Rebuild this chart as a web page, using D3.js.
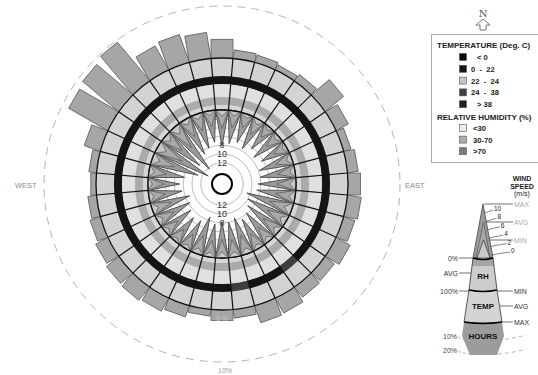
<!DOCTYPE html>
<html>
<head>
<meta charset="utf-8">
<script src="https://cdn.jsdelivr.net/npm/d3@7"></script>
<style>
body { margin: 0; background: #fff; }
svg { font-family: Arial, "Liberation Sans", sans-serif; }
</style>
</head>
<body>
<svg id="chart" width="538" height="375"></svg>
<script>
// directions in degrees, clockwise from north
var directions = d3.range(0, 360, 10);
// wind speed (m/s) per direction
var windMax = [8.2, 7.5, 6.8, 7.6, 6.4, 7.4, 6.5, 7.8, 8.0, 8.6, 8.8, 10.8, 10.0, 9.2, 8.2, 7.6, 8.6, 8.0,
               8.2, 7.6, 8.8, 7.2, 6.8, 7.6, 8.4, 9.0, 7.6, 7.2, 8.2, 11.0, 13.2, 10.2, 12.4, 9.0, 8.2, 7.2];
var windAvg = [4.2, 3.8, 3.2, 3.8, 3.0, 3.6, 3.2, 3.8, 4.0, 4.4, 4.4, 5.4, 5.0, 4.6, 4.0, 3.8, 4.4, 4.0,
               4.2, 3.8, 4.4, 3.6, 3.4, 3.8, 4.2, 4.6, 3.8, 3.6, 4.0, 5.4, 6.4, 5.0, 6.0, 4.4, 4.0, 3.6];
var windMin = [1.4, 1.1, 0.9, 1.2, 0.8, 1.1, 0.9, 1.2, 1.2, 1.5, 1.4, 1.8, 1.6, 1.5, 1.2, 1.1, 1.4, 1.2,
               1.4, 1.1, 1.4, 1.0, 0.9, 1.1, 1.3, 1.5, 1.1, 1.0, 1.2, 1.8, 2.2, 1.6, 2.0, 1.3, 1.2, 1.0];
// percent of hours per direction
var hours = [3.6, 1.6, 1.4, 1.0, 1.5, 4.5, 2.6, 1.4, 2.0, 2.4, 2.6, 2.2, 3.0, 2.2, 2.4, 3.2, 3.4, 1.6,
             2.0, 1.2, 2.2, 2.8, 3.2, 3.0, 2.6, 2.0, 1.6, 1.0, 1.4, 3.2, 8.6, 9.0, 9.6, 5.2, 5.6, 5.0];
// temperature / humidity class per direction
var tempClass = ["0-22","0-22","0-22","0-22","0-22","0-22","0-22","0-22","0-22","0-22","0-22","0-22",
                 "0-22","0-22","24-38","0-22","0-22","24-38","0-22","0-22","0-22","0-22","0-22","0-22",
                 "0-22","0-22","0-22","0-22","0-22","0-22","0-22","0-22","0-22","0-22","0-22","0-22"];
var rhClass = directions.map(function() { return "30-70"; });

var windTicks = [12, 10, 8, 6, 4, 2];
var windLabels = [12, 10, 8];
var tempLegend = ["< 0", "0  -  22", "22  -  24", "24  -  38", "> 38"];
var tempKeys = ["<0", "0-22", "22-24", "24-38", ">38"];
var rhLegend = ["<30", "30-70", ">70"];
var legendWindTicks = [10, 8, 6, 4, 2, 0];

var tempColor = d3.scaleOrdinal().domain(tempKeys).range(["#080808", "#141414", "#c4c4c4", "#3e3e3e", "#222"]);
var rhColor = d3.scaleOrdinal().domain(rhLegend).range(["#ececec", "#ababab", "#7a7a7a"]);

var svg = d3.select("#chart");
var cx = 222, cy = 184;
var rBase = 74, rRhBand0 = 79, rRhBand1 = 87, rRh = 100, rTempBand = 108, rOut = 126;

var rad = Math.PI / 180;
var wind = d3.scaleLinear().domain([0, 12]).range([rBase, 21.2]);
var hoursR = d3.scaleLinear().domain([0, 10]).range([rOut, 178]);

var g = svg.append("g").attr("transform", "translate(" + cx + "," + cy + ")");

// outer dashed circle (10% hours)
g.append("circle").attr("r", hoursR(10))
    .attr("fill", "none").attr("stroke", "#b4b4b4").attr("stroke-width", 1)
    .attr("stroke-dasharray", "8,6");

// hours bars
g.selectAll(".bar")
    .data(directions)
    .enter().append("rect")
    .attr("class", "bar")
    .attr("transform", function(d) { return "rotate(" + d + ")"; })
    .attr("x", -11)
    .attr("width", 22)
    .attr("y", function(d, i) { return -hoursR(hours[i]); })
    .attr("height", function(d, i) { return hoursR(hours[i]) - rRh; })
    .attr("fill", "#a6a6a6")
    .attr("stroke", "#5e5e5e")
    .attr("stroke-width", 0.8);

g.append("text").attr("x", 0).attr("y", rOut + 11).attr("text-anchor", "middle")
    .attr("font-size", 7).attr("fill", "#c8c8c8").text("0 %");

var arc = d3.arc();
function cell(d, r0, r1) {
    return arc({innerRadius: r0, outerRadius: r1, startAngle: (d - 5) * rad, endAngle: (d + 5) * rad});
}

// ring cells
g.selectAll(".tcell").data(directions).enter().append("path")
    .attr("d", function(d) { return cell(d, rTempBand, rOut); })
    .attr("fill", "#d3d3d3");
g.selectAll(".tband").data(directions).enter().append("path")
    .attr("d", function(d) { return cell(d, rRh, rTempBand); })
    .attr("fill", function(d, i) { return tempColor(tempClass[i]); });
g.selectAll(".rcell").data(directions).enter().append("path")
    .attr("d", function(d) { return cell(d, rBase, rRh); })
    .attr("fill", "#e0e0e0");
g.selectAll(".rband").data(directions).enter().append("path")
    .attr("d", function(d) { return cell(d, rRhBand0, rRhBand1); })
    .attr("fill", function(d, i) { return rhColor(rhClass[i]); });
g.selectAll(".rinner").data(directions).enter().append("path")
    .attr("d", function(d) { return cell(d, rBase, rRhBand0); })
    .attr("fill", "#d6d6d6");

// cell dividers
g.selectAll(".div").data(directions).enter().append("line")
    .attr("transform", function(d) { return "rotate(" + (d + 5) + ")"; })
    .attr("y1", -rBase).attr("y2", -rOut)
    .attr("stroke", "#111").attr("stroke-width", 1.2);
[rOut, rBase].forEach(function(r) {
    g.append("circle").attr("r", r).attr("fill", "none").attr("stroke", "#111").attr("stroke-width", 1.3);
});

// inner disc + wind grid
g.append("circle").attr("r", rBase - 0.7).attr("fill", "#fff");
g.selectAll(".wgrid").data(windTicks).enter().append("circle")
    .attr("r", function(d) { return wind(d); })
    .attr("fill", "none").attr("stroke", "#aaa").attr("stroke-width", 0.8);

// wind spikes: region between base circle and the star outline
var circlePath = "M" + rBase + ",0A" + rBase + "," + rBase + " 0 1,1 " + (-rBase) + ",0A" + rBase + "," + rBase + " 0 1,1 " + rBase + ",0Z";
function star(vals) {
    var pts = [];
    directions.forEach(function(d, i) {
        pts.push([d * rad, wind(vals[i])]);
        pts.push([(d + 5) * rad, rBase]);
    });
    return d3.lineRadial().angle(function(p) { return p[0]; }).radius(function(p) { return p[1]; })
        .curve(d3.curveLinearClosed)(pts);
}
function spikes(vals, fill, stroke, sw) {
    g.append("path").attr("d", circlePath + star(vals)).attr("fill-rule", "evenodd")
        .attr("fill", fill).attr("stroke", "none");
    g.append("path").attr("d", star(vals)).attr("fill", "none").attr("stroke", stroke).attr("stroke-width", sw);
}
spikes(windMax, "#9b9b9b", "#444", 0.9);
spikes(windAvg, "#a9a9a9", "#555", 0.7);
spikes(windMin, "#c6c6c6", "#555", 0.7);
g.append("circle").attr("r", rBase).attr("fill", "none").attr("stroke", "#111").attr("stroke-width", 1.3);

// wind labels above and below centre
windLabels.forEach(function(w) {
    [-1, 1].forEach(function(s) {
        g.append("text").attr("x", 0).attr("y", s * wind(w) + 3)
            .attr("text-anchor", "middle").attr("font-size", 9).attr("fill", "#333").text(w);
    });
});

g.append("circle").attr("r", 10).attr("fill", "#fff").attr("stroke", "#000").attr("stroke-width", 2);

// compass labels
svg.append("text").attr("x", 15).attr("y", 188).attr("font-size", 7.5).attr("fill", "#8a8a8a").text("WEST");
svg.append("text").attr("x", 405).attr("y", 188).attr("font-size", 7.5).attr("fill", "#8a8a8a").text("EAST");
svg.append("text").attr("x", 225).attr("y", 373).attr("text-anchor", "middle").attr("font-size", 7).attr("fill", "#999").text("10%");

// north arrow
svg.append("text").attr("x", 483).attr("y", 17).attr("text-anchor", "middle")
    .attr("font-size", 10).attr("font-family", "DejaVu Serif, serif").attr("fill", "#555").text("N");
svg.append("path").attr("d", "M483,19 L490,25 L486,25 L486,30 L480,30 L480,25 L476,25 Z")
    .attr("fill", "#fff").attr("stroke", "#777").attr("stroke-width", 1);

// legend box
var lg = svg.append("g");
lg.append("rect").attr("x", 431.5).attr("y", 34.5).attr("width", 110).attr("height", 128)
    .attr("fill", "#fff").attr("stroke", "#aaa");
lg.append("text").attr("x", 437).attr("y", 48).attr("font-size", 8).attr("font-weight", "bold")
    .attr("fill", "#222").text("TEMPERATURE (Deg. C)");
tempLegend.forEach(function(t, i) {
    var y = 57 + i * 11.8;
    lg.append("rect").attr("x", 459.5).attr("y", y - 3.5).attr("width", 7).attr("height", 7)
        .attr("fill", tempColor(tempKeys[i])).attr("stroke", "#555").attr("stroke-width", 0.6);
    lg.append("text").attr("x", i === 0 || i === 4 ? 477 : 471).attr("y", y + 3)
        .attr("font-size", 7.6).attr("font-weight", "bold").attr("fill", "#222")
        .attr("xml:space", "preserve").text(t);
});
lg.append("text").attr("x", 437).attr("y", 120).attr("font-size", 8).attr("font-weight", "bold")
    .attr("fill", "#222").text("RELATIVE HUMIDITY (%)");
rhLegend.forEach(function(t, i) {
    var y = 128 + i * 11.6;
    lg.append("rect").attr("x", 459.5).attr("y", y - 3.5).attr("width", 7).attr("height", 7)
        .attr("fill", rhColor(t)).attr("stroke", "#555").attr("stroke-width", 0.6);
    lg.append("text").attr("x", 473).attr("y", y + 3)
        .attr("font-size", 7.6).attr("font-weight", "bold").attr("fill", "#222").text(t);
});

// wind wheel key
var k = svg.append("g");
["WIND", "SPEED", "(m/s)"].forEach(function(t, i) {
    k.append("text").attr("x", 522).attr("y", 181 + i * 7.5).attr("text-anchor", "middle")
        .attr("font-size", 7).attr("font-weight", i < 2 ? "bold" : "normal").attr("fill", "#222").text(t);
});
var tipY = 204;
var ky = d3.scaleLinear().domain([0, 10]).range([252, 210]);
k.append("path").attr("d", "M483,204 L493,258 L473,258 Z").attr("fill", "#9c9c9c").attr("stroke", "#444").attr("stroke-width", 0.8);
k.append("path").attr("d", "M483.5,222 L490,258 L476,258 Z").attr("fill", "#a8a8a8").attr("stroke", "#555").attr("stroke-width", 0.7);
k.append("path").attr("d", "M483.5,240 L490,258 L477,258 Z").attr("fill", "#cacaca").attr("stroke", "#444").attr("stroke-width", 0.8);
// RH, temp, hours blocks
k.append("path").attr("d", "M473,258 L493,258 L497,290 L469,290 Z").attr("fill", "#cdcdcd");
k.append("path").attr("d", "M473,258 L493,258 L494,266 L472,266 Z").attr("fill", "#a5a5a5");
k.append("path").attr("d", "M469,290 L497,290 L502,322 L464,322 Z").attr("fill", "#d4d4d4");
k.append("path").attr("d", "M464,322 L502,322 L504,336 L497,355 L470,355 L462,336 Z").attr("fill", "#9c9c9c");
k.append("path").attr("d", "M473,258 L469,290 L464,322 M493,258 L497,290 L502,322")
    .attr("fill", "none").attr("stroke", "#333").attr("stroke-width", 0.8);
[[473, 493, 258], [469, 497, 290], [464, 502, 322]].forEach(function(a) {
    k.append("path").attr("d", "M" + a[0] + "," + a[2] + " Q" + (a[0] + a[1]) / 2 + "," + (a[2] + 3) + " " + a[1] + "," + a[2])
        .attr("fill", "none").attr("stroke", "#000").attr("stroke-width", 1.4);
});
k.append("text").attr("x", 483).attr("y", 279).attr("text-anchor", "middle").attr("font-size", 8).attr("font-weight", "bold").attr("fill", "#111").text("RH");
k.append("text").attr("x", 483).attr("y", 309).attr("text-anchor", "middle").attr("font-size", 8).attr("font-weight", "bold").attr("fill", "#111").text("TEMP");
k.append("text").attr("x", 483).attr("y", 339).attr("text-anchor", "middle").attr("font-size", 8).attr("font-weight", "bold").attr("fill", "#111").text("HOURS");

// wind speed ticks on key
legendWindTicks.forEach(function(w) {
    var y = ky(w);
    var xe = 483 + (y - tipY) * 10 / 54;
    var xt = 494 + (10 - w) * 1.7;
    k.append("path").attr("d", "M" + xe + "," + (y + 3) + " Q" + (xe + 4) + "," + (y + 2) + " " + (xt - 1) + "," + y)
        .attr("fill", "none").attr("stroke", "#333").attr("stroke-width", 0.6);
    k.append("text").attr("x", xt).attr("y", y + 1).attr("font-size", 6.5).attr("fill", "#222").text(w);
});
// right-hand markers
var rightMarks = [["MAX", 204, 484, "#aaa"], ["AVG", 222, 486, "#aaa"], ["MIN", 240, 489, "#aaa"],
                  ["MIN", 291, 497, "#333"], ["AVG", 306, 500, "#333"], ["MAX", 322, 502, "#333"]];
rightMarks.forEach(function(m) {
    k.append("line").attr("x1", m[2]).attr("x2", 513).attr("y1", m[1]).attr("y2", m[1])
        .attr("stroke", "#333").attr("stroke-width", 0.7);
    k.append("text").attr("x", 514).attr("y", m[1] + 2.5).attr("font-size", 7).attr("fill", m[3]).text(m[0]);
});
var leftMarks = [["0%", 258, 473], ["AVG", 273, 471], ["100%", 291, 469]];
leftMarks.forEach(function(m) {
    k.append("line").attr("x1", 459).attr("x2", m[2]).attr("y1", m[1]).attr("y2", m[1])
        .attr("stroke", "#333").attr("stroke-width", 0.7);
    k.append("text").attr("x", 458).attr("y", m[1] + 2.5).attr("text-anchor", "end").attr("font-size", 7).attr("fill", "#333").text(m[0]);
});
[["10%", 337], ["20%", 351]].forEach(function(m) {
    k.append("text").attr("x", 457).attr("y", m[1] + 2).attr("text-anchor", "end").attr("font-size", 7).attr("fill", "#444").text(m[0]);
    k.append("path").attr("d", "M458," + m[1] + " Q464," + (m[1] + 3) + " 470," + (m[1] + 3))
        .attr("fill", "none").attr("stroke", "#999").attr("stroke-width", 0.7).attr("stroke-dasharray", "3,2");
    k.append("path").attr("d", "M498," + (m[1] + 3) + " Q512," + (m[1] + 2) + " 526," + (m[1] - 2))
        .attr("fill", "none").attr("stroke", "#999").attr("stroke-width", 0.7).attr("stroke-dasharray", "4,3");
});
</script>
</body>
</html>
